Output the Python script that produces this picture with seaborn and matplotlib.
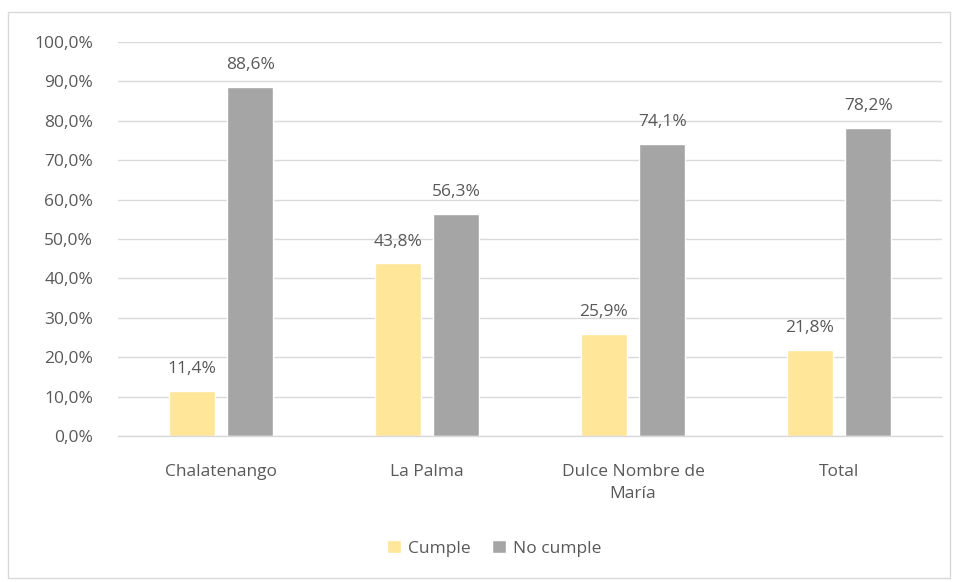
import matplotlib
matplotlib.use("Agg")
import matplotlib.pyplot as plt
import matplotlib.patches as mpatches
import pandas as pd
import seaborn as sns
from matplotlib.ticker import FuncFormatter

# Data
categories = ["Chalatenango", "La Palma", "Dulce Nombre de\nMaría", "Total"]
series = ["Cumple", "No cumple"]
cumple = [11.4, 43.8, 25.9, 21.8]
no_cumple = [88.6, 56.3, 74.1, 78.2]

COLORS = {"Cumple": "#FFE699", "No cumple": "#A5A5A5"}
TEXT = "#595959"
FS = 12.5

df = pd.DataFrame({
    "categoria": categories * 2,
    "serie": [series[0]] * len(categories) + [series[1]] * len(categories),
    "valor": cumple + no_cumple,
})

sns.set_theme(style="white")
plt.rcParams["font.family"] = ["Open Sans", "DejaVu Sans"]

fig = plt.figure(figsize=(9.54, 5.82), dpi=100)
ax = fig.add_axes([0.1237, 0.2509, 0.8637, 0.6769])

sns.barplot(
    data=df, x="categoria", y="valor", hue="serie",
    palette=COLORS, width=0.566, gap=0.21, ax=ax,
    saturation=1, legend=True,
)

for container in ax.containers:
    labels = [f"{v:.1f}%".replace(".", ",") for v in container.datavalues]
    ax.bar_label(container, labels=labels, padding=10, fontsize=FS, color=TEXT)

ax.set_ylim(0, 100)
ax.set_yticks(range(0, 101, 10))
ax.yaxis.set_major_formatter(FuncFormatter(lambda v, _: f"{v:.1f}%".replace(".", ",")))
ax.set_xlim(-0.5, 3.5)
ax.grid(axis="y", color="#D9D9D9", linewidth=1)
ax.set_axisbelow(True)
for side in ["left", "right", "top"]:
    ax.spines[side].set_visible(False)
ax.spines["bottom"].set_color("#D9D9D9")
ax.spines["bottom"].set_linewidth(1)
ax.tick_params(axis="y", length=0, pad=18, labelsize=FS, labelcolor=TEXT)
ax.tick_params(axis="x", length=0, pad=20, labelsize=FS, labelcolor=TEXT)
for lbl in ax.get_xticklabels():
    lbl.set_multialignment("center")
    lbl.set_linespacing(1.5)
ax.set_xlabel("")
ax.set_ylabel("")

ax.legend(
    loc="center", ncol=2, frameon=False, fontsize=FS, labelcolor=TEXT,
    handlelength=0.8, handleheight=0.8, handletextpad=0.4, columnspacing=1.2,
)
leg = ax.get_legend()
leg.set_bbox_to_anchor((0.518, 0.058), transform=fig.transFigure)

# outer chart border
fig.patches.append(mpatches.Rectangle(
    (8 / 954, 4 / 582), 942 / 954, 566 / 582, transform=fig.transFigure,
    fill=False, edgecolor="#D9D9D9", linewidth=1,
))

fig.savefig("out.png", dpi=100)
